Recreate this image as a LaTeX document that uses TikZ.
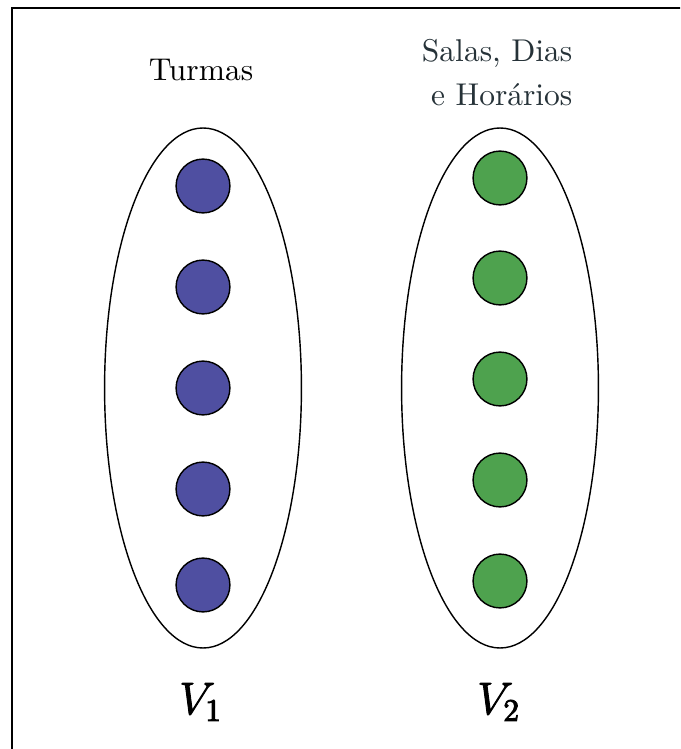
\documentclass[tikz,border=0pt]{standalone}
\usepackage{fontspec}
\usetikzlibrary{shapes.geometric}
\definecolor{turmablue}{HTML}{4F4FA1}
\definecolor{salagreen}{HTML}{4EA24E}
\definecolor{labelgray}{HTML}{263238}
% slightly heavier strokes for the set names (fill + thin outline)
\newcommand{\heavytext}[1]{\special{pdf:literal direct 2 Tr 0.3 w}#1\special{pdf:literal direct 0 Tr}}
\begin{document}
\begin{tikzpicture}[x=0.3175pt,y=-0.3175pt,
  vertex/.style={circle,draw=black,line width=0.45pt,minimum size=17.1pt,inner sep=0pt},
  part/.style={ellipse,draw=black,line width=0.45pt,minimum width=62.5pt,minimum height=165.1pt,inner sep=0pt},
  heading/.style={font=\fontsize{10}{14}\selectfont,inner sep=0pt},
  setname/.style={font=\fontsize{14.5}{16}\selectfont,inner sep=0pt}]
  \useasboundingbox (0,0) rectangle (680,749);
  % outer frame, running past the right and bottom edges
  \begin{scope}
    \clip (0,0) rectangle (680,749);
    \draw[line width=0.65pt] (12,8) rectangle (700,770);
  \end{scope}
  % the two parts of the bipartite graph
  \node[part] (P1) at (203,388) {};
  \node[part] (P2) at (500,388) {};
  % class vertices
  \foreach \i/\y in {1/186,2/287,3/388,4/489,5/585}
    \node[vertex,fill=turmablue] (a\i) at (203,\y) {};
  % room/day/time vertices
  \foreach \i/\y in {1/178,2/278,3/379,4/480,5/581}
    \node[vertex,fill=salagreen] (b\i) at (500,\y) {};
  % headings
  \node[heading] (t1) at (201,70) {Turmas};
  \node[heading,text=labelgray,align=right,anchor=north east] (t2) at (573,39) {Salas, Dias\\ e Horários};
  % set names
  \node[setname] (v1) at (201,702) {\heavytext{$V_1$}};
  \node[setname] (v2) at (499,702) {\heavytext{$V_2$}};
\end{tikzpicture}
\end{document}
